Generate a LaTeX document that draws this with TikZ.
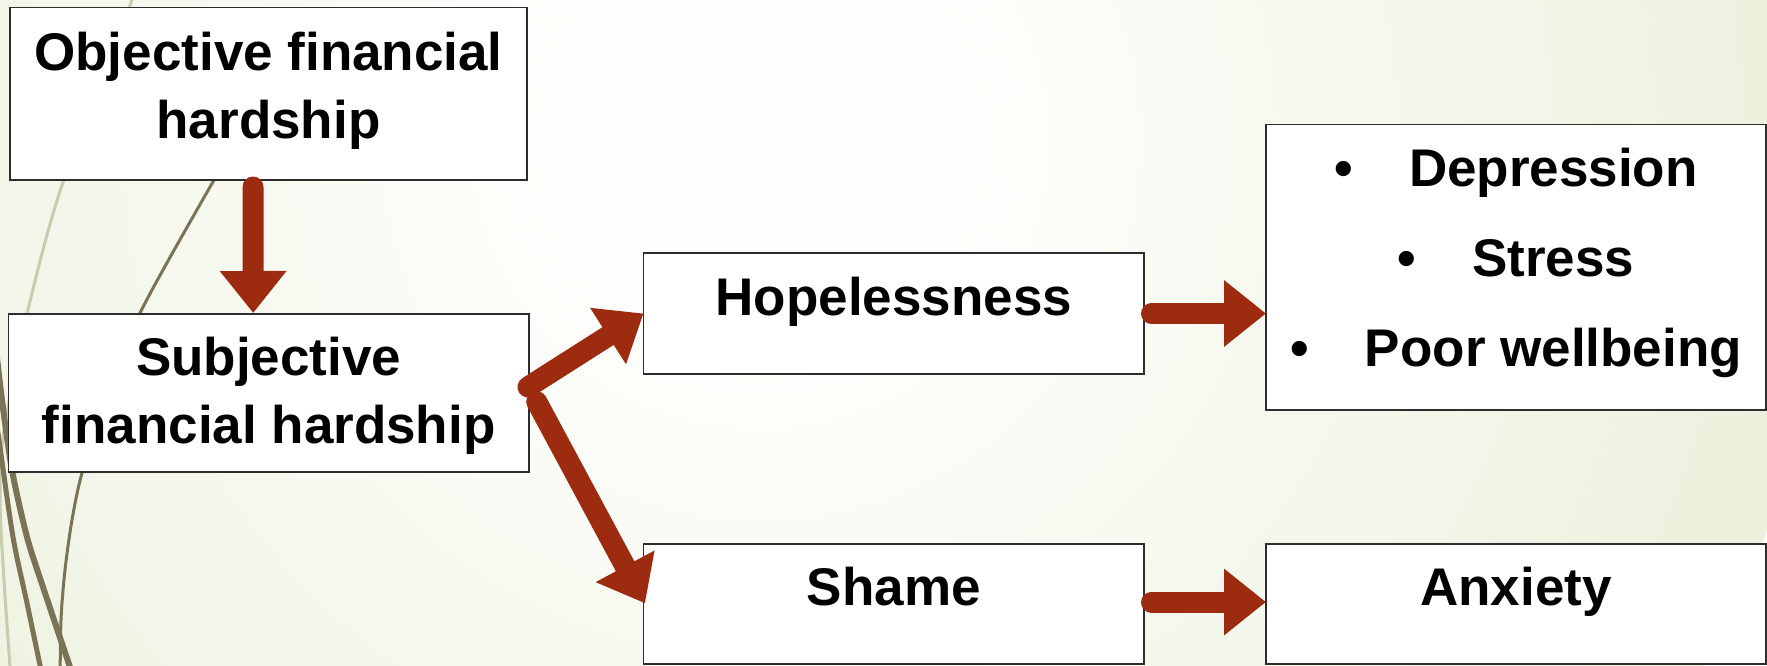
\documentclass[tikz,border=0pt]{standalone}
\usepackage{fontspec}
\setmainfont{Liberation Sans}
\usetikzlibrary{arrows.meta,calc}
\definecolor{arrowred}{RGB}{156,43,16}
\definecolor{bgin}{RGB}{254,254,252}
\definecolor{bgout}{RGB}{212,224,180}
\definecolor{wispdark}{RGB}{122,115,86}
\definecolor{wisplight}{RGB}{200,204,174}
\definecolor{boxline}{RGB}{45,45,45}
\pgfdeclareradialshading{bgshade}{\pgfpoint{0bp}{0bp}}{color(0bp)=(bgin); color(5bp)=(bgin); color(50bp)=(bgout)}
\newcommand\twolines[3]{\vtop{\baselineskip=#1\halign{\hfil##\hfil\cr #2\cr #3\cr}}}
\newcommand\threelines[4]{\vtop{\baselineskip=#1\halign{\hfil##\hfil\cr #2\cr #3\cr #4\cr}}}
\newcommand\bul[1]{\makebox[74.8pt][l]{•}#1}
\tikzset{
  box/.style={draw=boxline, line width=1.5pt, fill=white, inner sep=0pt, outer sep=0pt,
    anchor=north west, font=\fontsize{53}{64}\selectfont\bfseries},
  arr/.style={draw=arrowred, line width=21pt, line cap=round,
    -{Triangle[length=42pt,width=64pt]}},
  wispA/.style={draw=wispdark, line width=3pt},
  wispB/.style={draw=wispdark, line width=6pt},
  wispL/.style={draw=wisplight, line width=3pt}
}
\begin{document}
\begin{tikzpicture}[x=1pt,y=-1pt]
\useasboundingbox (0,0) rectangle (1767,665);
\begin{scope}
  \clip (0,0) rectangle (1767,665);
  \shade[shading=bgshade] (760,140) circle (1080);
  \draw[wispL] plot[smooth] coordinates {(145,-30) (132,0) (63,182) (28,310) (4,430) (0,500) (4,580) (10,667) (12,700)};
  \draw[wispA] plot[smooth] coordinates {(290,50) (214,180) (140,313) (105,400) (82,473) (72,520) (65,570) (61,620) (60,690)};
  \draw[wispB] plot[smooth] coordinates {(-5,340) (2,400) (12,470) (27,537) (43,587) (71,670)};
  \draw[wispdark, line width=5pt] plot[smooth] coordinates {(-4,420) (0,447) (13,537) (27,603) (41,670)};
\end{scope}

\node[box, minimum width=517pt, text height=63pt, text depth=109.4pt] (obj) at (10,7.6)
  {\twolines{67.5pt}{Objective financial}{hardship}};
\node[box, minimum width=520.6pt, text height=61.3pt, text depth=96.7pt] (subj) at (8.4,314)
  {\twolines{68pt}{Subjective}{financial hardship}};
\node[box, minimum width=500.5pt, text height=62pt, text depth=59pt] (hope) at (643.5,253)
  {Hopelessness};
\node[box, minimum width=500.5pt, text height=61.7pt, text depth=58.3pt] (shame) at (643.5,544)
  {Shame};
\node[box, minimum width=500pt, text height=62pt, text depth=223.5pt] (res) at (1266,124.5)
  {\threelines{90pt}{\bul{Depression}}{\bul{Stress}}{\bul{Poor wellbeing}}};
\node[box, minimum width=500pt, text height=61.7pt, text depth=58.3pt] (anx) at (1266,544)
  {Anxiety};

\draw[arr] ([shift={(-15.5,7)}]obj.south) -- ([shift={(-15.5,-1)}]subj.north);
\draw[arr] ([shift={(-1,-6)}]subj.east) -- (hope.west);
\draw[arr] ([shift={(7.7,8.7)}]subj.east) -- ([shift={(1.5,-0.7)}]shame.west);
\draw[arr] ([xshift=7.5pt]hope.east) -- (res.west |- hope.east);
\draw[arr] ([shift={(7.5,-2)}]shame.east) -- ([yshift=2pt]anx.west |- shame.east);
\end{tikzpicture}
\end{document}
